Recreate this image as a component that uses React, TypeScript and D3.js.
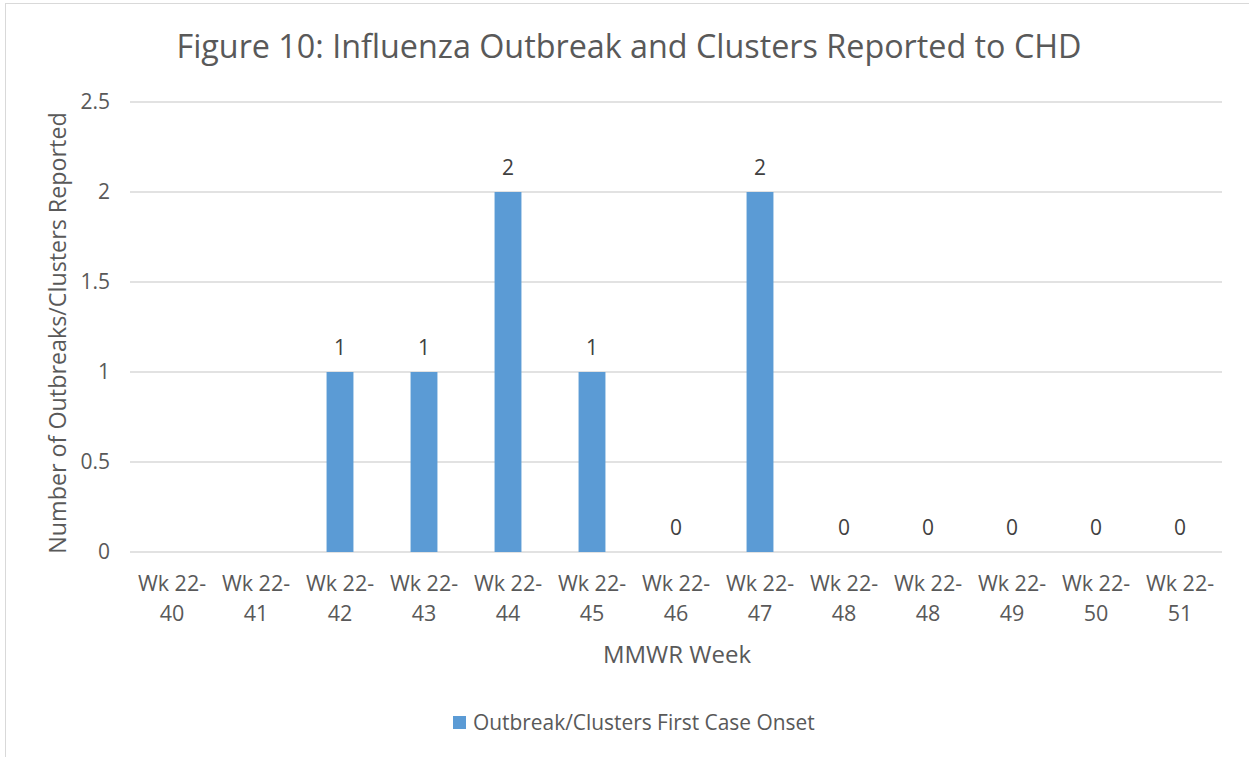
import * as d3 from "d3";
import React from "react";

const WIDTH = 1249;
const HEIGHT = 757;
const MARGIN = { top: 102, right: 27, bottom: 205, left: 130 };

const weeks = ["40", "41", "42", "43", "44", "45", "46", "47", "48", "48", "49", "50", "51"];
const counts: (number | null)[] = [null, null, 1, 1, 2, 1, 0, 2, 0, 0, 0, 0, 0];
const yTicks = [0, 0.5, 1, 1.5, 2, 2.5];

const FONT = "'Open Sans', 'Noto Sans', sans-serif";
const TEXT = "#595959";
const BAR = "#5b9bd5";

const App: React.FC = () => {
    const boundsWidth = WIDTH - MARGIN.left - MARGIN.right;
    const boundsHeight = HEIGHT - MARGIN.top - MARGIN.bottom;

    const xScale = d3
        .scaleBand<number>()
        .domain(weeks.map((_, i) => i))
        .range([0, boundsWidth])
        .paddingInner(0.68)
        .paddingOuter(0.34);

    const yScale = d3.scaleLinear().domain([0, 2.5]).range([boundsHeight, 0]);

    const bw = xScale.bandwidth();

    return (
        <svg
            width={WIDTH}
            height={HEIGHT}
            style={{ position: "absolute", left: 0, top: 0, background: "#fff" }}
            fontFamily={FONT}
        >
            <rect x={0} y={0} width={WIDTH} height={HEIGHT} fill="#fff" />
            {/* outer chart border (left + top only are visible) */}
            <line x1={5.5} x2={5.5} y1={3} y2={HEIGHT} stroke="#d9d9d9" />
            <line x1={5} x2={WIDTH} y1={3.5} y2={3.5} stroke="#d9d9d9" />

            <text
                x={629}
                y={58}
                textAnchor="middle"
                fontSize={32.3}
                fill={TEXT}
            >
                Figure 10: Influenza Outbreak and Clusters Reported to CHD
            </text>

            <g transform={`translate(${MARGIN.left},${MARGIN.top})`}>
                {yTicks.map((t) => (
                    <g key={t}>
                        <line
                            x1={0}
                            x2={boundsWidth}
                            y1={yScale(t)}
                            y2={yScale(t)}
                            stroke="#d9d9d9"
                            strokeWidth={1.3}
                        />
                        <text
                            x={-20}
                            y={yScale(t)}
                            dy="0.35em"
                            textAnchor="end"
                            fontSize={21}
                            fill={TEXT}
                        >
                            {t}
                        </text>
                    </g>
                ))}

                {counts.map((c, i) => {
                    const x = xScale(i) ?? 0;
                    const cx = x + bw / 2;
                    return (
                        <g key={i}>
                            {c !== null && c > 0 && (
                                <rect
                                    x={x}
                                    y={yScale(c)}
                                    width={bw}
                                    height={boundsHeight - yScale(c)}
                                    fill={BAR}
                                />
                            )}
                            {c !== null && (
                                <text
                                    x={cx}
                                    y={yScale(c) - 17}
                                    textAnchor="middle"
                                    fontSize={21}
                                    fill="#404040"
                                >
                                    {c}
                                </text>
                            )}
                            <text
                                x={cx}
                                y={boundsHeight + 39}
                                textAnchor="middle"
                                fontSize={21.5}
                                fill={TEXT}
                            >
                                Wk 22-
                            </text>
                            <text
                                x={cx}
                                y={boundsHeight + 69}
                                textAnchor="middle"
                                fontSize={21.5}
                                fill={TEXT}
                            >
                                {weeks[i]}
                            </text>
                        </g>
                    );
                })}

                <text
                    x={547}
                    y={boundsHeight + 111}
                    textAnchor="middle"
                    fontSize={24}
                    fill={TEXT}
                >
                    MMWR Week
                </text>

                <text
                    transform={`translate(${-64},${boundsHeight / 2 - 222 + 228}) rotate(-90)`}
                    textAnchor="middle"
                    fontSize={23.3}
                    fill={TEXT}
                >
                    Number of Outbreaks/Clusters Reported
                </text>
            </g>

            <rect x={453} y={716} width={13} height={13} fill={BAR} />
            <text x={473} y={730} fontSize={20.9} fill={TEXT}>
                Outbreak/Clusters First Case Onset
            </text>
        </svg>
    );
};

export default App;
